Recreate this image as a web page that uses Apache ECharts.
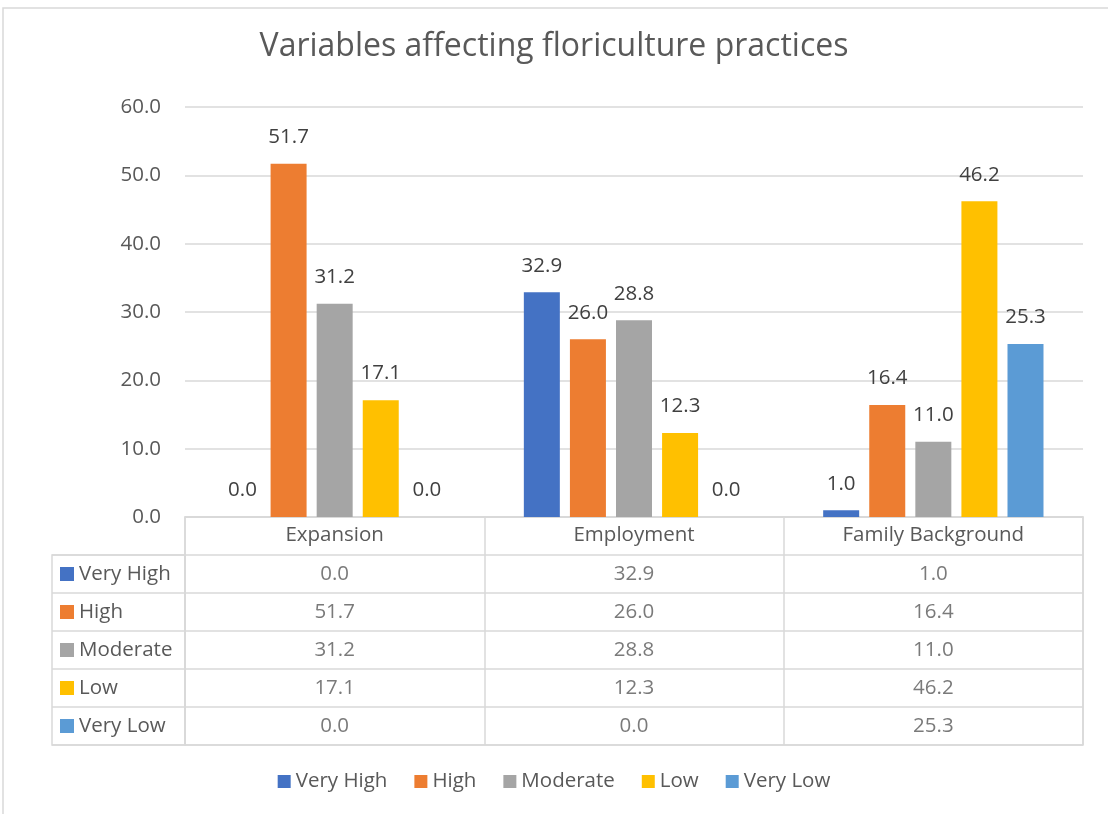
<!DOCTYPE html>
<html>
<head>
<meta charset="utf-8">
<script src="https://cdn.jsdelivr.net/npm/echarts@6/dist/echarts.min.js"></script>
<style>
  html, body { margin: 0; padding: 0; background: #fff; }
  #chart { width: 1108px; height: 814px; }
</style>
</head>
<body>
<div id="chart"></div>
<script>
// data
var categories = ['Expansion', 'Employment', 'Family Background']
var seriesNames = ['Very High', 'High', 'Moderate', 'Low', 'Very Low']
var veryHigh = [0.0, 32.9, 1.0]
var high = [51.7, 26.0, 16.4]
var moderate = [31.2, 28.8, 11.0]
var low = [17.1, 12.3, 46.2]
var veryLow = [0.0, 0.0, 25.3]
var yTicks = [0, 60, 10] // min, max, interval

var values = [veryHigh, high, moderate, low, veryLow]
var colors = ['#4472C4', '#ED7D31', '#A5A5A5', '#FFC000', '#5B9BD5']
var font = '"Open Sans", "Noto Sans", sans-serif'
var textColor = '#595959'
var lineColor = '#d9d9d9'
var fs = 20.5

// rich styles for the little squares in the table's first column
var rich = { t: { fontSize: fs, color: textColor, fontFamily: font, padding: [0, 0, 0, 5] } }
colors.forEach(function (c, i) {
  rich['s' + i] = { width: 14, height: 14, backgroundColor: c }
})

var series = []
seriesNames.forEach(function (name, i) {
  series.push({
    name: name,
    type: 'bar',
    xAxisIndex: 0,
    yAxisIndex: 0,
    barWidth: 36,
    barGap: '28%',
    itemStyle: { color: colors[i] },
    label: {
      show: true,
      position: 'top',
      distance: 16,
      color: '#404040',
      fontSize: fs,
      fontFamily: font,
      formatter: function (p) { return p.value.toFixed(1) }
    },
    data: values[i]
  })
})

// values in the data table
var cells = []
values.forEach(function (row, s) {
  row.forEach(function (v, c) {
    cells.push([c, s + 1, v])
  })
})
series.push({
  name: 'table',
  type: 'scatter',
  xAxisIndex: 1,
  yAxisIndex: 1,
  symbolSize: 1,
  silent: true,
  itemStyle: { color: 'rgba(0,0,0,0)' },
  label: {
    show: true,
    position: 'inside',
    color: textColor,
    fontSize: fs,
    fontFamily: font,
    formatter: function (p) { return p.value[2].toFixed(1) }
  },
  data: cells
})

var option = {
  animation: false,
  backgroundColor: '#fff',
  textStyle: { fontFamily: font },
  title: {
    text: 'Variables affecting floriculture practices',
    left: 'center',
    top: 26,
    textStyle: { color: textColor, fontSize: 32, fontWeight: 'normal', fontFamily: font }
  },
  legend: {
    data: seriesNames,
    bottom: 17,
    left: 'center',
    icon: 'rect',
    itemWidth: 13,
    itemHeight: 13,
    itemGap: 27,
    textStyle: { color: textColor, fontSize: fs, fontFamily: font }
  },
  graphic: [{
    type: 'rect',
    shape: { x: 3, y: 8, width: 1130, height: 830 },
    style: { fill: 'none', stroke: lineColor, lineWidth: 1.5 },
    silent: true
  }],
  grid: [
    { left: 185, right: 25, top: 107, height: 410, outerBoundsMode: 'none' },
    { left: 185, right: 25, top: 517, height: 228, show: true, borderColor: lineColor, borderWidth: 1.5, outerBoundsMode: 'none' },
    { left: 52, width: 133, top: 555, height: 190, show: true, borderColor: lineColor, borderWidth: 1.5, outerBoundsMode: 'none' }
  ],
  xAxis: [
    {
      type: 'category',
      gridIndex: 0,
      data: categories,
      axisLine: { lineStyle: { color: lineColor, width: 1.5 } },
      axisTick: { show: false },
      axisLabel: { color: textColor, fontSize: fs, fontFamily: font, margin: 8 }
    },
    {
      type: 'category',
      gridIndex: 1,
      data: categories,
      axisLine: { show: false },
      axisTick: { show: false },
      axisLabel: { show: false },
      splitLine: { show: true, lineStyle: { color: lineColor, width: 1.5 } }
    },
    {
      type: 'value',
      gridIndex: 2,
      show: false
    }
  ],
  yAxis: [
    {
      type: 'value',
      gridIndex: 0,
      min: yTicks[0],
      max: yTicks[1],
      interval: yTicks[2],
      axisLine: { show: false },
      axisTick: { show: false },
      axisLabel: {
        color: textColor,
        fontSize: fs,
        fontFamily: font,
        margin: 24,
        formatter: function (v) { return v.toFixed(1) }
      },
      splitLine: { lineStyle: { color: lineColor, width: 1.5 } }
    },
    {
      type: 'category',
      gridIndex: 1,
      inverse: true,
      data: [''].concat(seriesNames),
      axisLine: { show: false },
      axisTick: { show: false },
      axisLabel: { show: false },
      splitLine: { show: true, lineStyle: { color: lineColor, width: 1.5 } }
    },
    {
      type: 'category',
      gridIndex: 2,
      inverse: true,
      data: seriesNames,
      axisLine: { show: false },
      axisTick: { show: false },
      axisLabel: {
        inside: true,
        margin: 8,
        rich: rich,
        formatter: function (v, i) { return '{s' + i + '|}{t|' + v + '}' }
      },
      splitLine: { show: true, lineStyle: { color: lineColor, width: 1.5 } }
    }
  ],
  series: series
}

var chart = echarts.init(document.getElementById('chart'))
chart.setOption(option)
</script>
</body>
</html>
